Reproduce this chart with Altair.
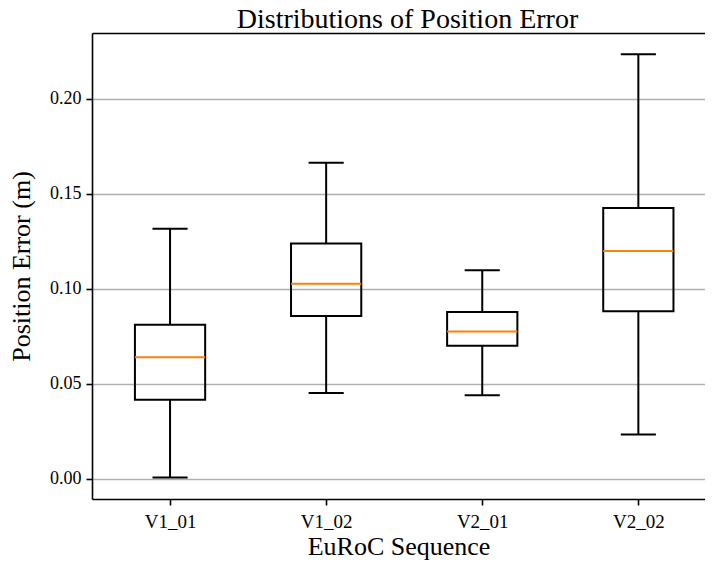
import altair as alt
import pandas as pd

# Data
sequences = ["V1_01", "V1_02", "V2_01", "V2_02"]
positions = [1, 2, 3, 4]
whisker_low = [0.0006, 0.0451, 0.0439, 0.0233]
q1 = [0.0416, 0.0857, 0.0700, 0.0882]
median = [0.0640, 0.1027, 0.0775, 0.1199]
q3 = [0.0811, 0.1238, 0.0878, 0.1425]
whisker_high = [0.1316, 0.1664, 0.1097, 0.2235]
y_ticks = [0.0, 0.05, 0.10, 0.15, 0.20]
chart_title = "Distributions of Position Error"

df = pd.DataFrame({
    "pos": positions,
    "name": sequences,
    "wlo": whisker_low,
    "q1": q1,
    "med": median,
    "q3": q3,
    "whi": whisker_high,
})

FONT = "Liberation Serif"
LW = 2

label_expr = "[" + ",".join("'" + s + "'" for s in sequences) + "][datum.value - 1]"

xscale = alt.Scale(domain=[0.5, 4.427], nice=False, zero=False)
yscale = alt.Scale(domain=[-0.0107, 0.2347], nice=False, zero=False)

base = alt.Chart(df).transform_calculate(
    left="datum.pos - 0.225",
    right="datum.pos + 0.225",
    capl="datum.pos - 0.1125",
    capr="datum.pos + 0.1125",
)

yenc_axis = alt.Axis(
    values=y_ticks, format=".2f", grid=True, gridColor="#b0b0b0", gridWidth=1.6,
    domainColor="black", domainWidth=1.6, tickColor="black", tickWidth=1.6, tickSize=6,
    labelPadding=5, labelFontSize=18, title="Position Error (m)", titleFontSize=26,
    titlePadding=15,
)

x_bottom_axis = alt.Axis(
    values=positions, labelExpr=label_expr, grid=False, domainColor="black",
    domainWidth=1.6, tickColor="black", tickWidth=1.6, tickSize=6, labelPadding=7,
    labelFontSize=19, title="EuRoC Sequence", titleFontSize=26,
    titleBaseline="alphabetic", titleY=55,
)

x_top_axis = alt.Axis(
    orient="top", labels=False, ticks=False, grid=False, domainColor="black",
    domainWidth=1.6, title=chart_title, titleFontSize=28, titleBaseline="alphabetic",
    titleY=-6, titleX=315, titleAngle=0,
)

whisk_lo = base.mark_rule(color="black", strokeWidth=LW).encode(
    x=alt.X("pos:Q", scale=xscale, axis=None),
    y=alt.Y("wlo:Q", scale=yscale, axis=yenc_axis),
    y2="q1:Q",
)
whisk_hi = base.mark_rule(color="black", strokeWidth=LW).encode(
    x=alt.X("pos:Q", scale=xscale, axis=None),
    y=alt.Y("q3:Q", scale=yscale),
    y2="whi:Q",
)
cap_lo = base.mark_rule(color="black", strokeWidth=LW).encode(
    x=alt.X("capl:Q", scale=xscale, axis=None),
    x2="capr:Q",
    y=alt.Y("wlo:Q", scale=yscale),
)
cap_hi = base.mark_rule(color="black", strokeWidth=LW).encode(
    x=alt.X("capl:Q", scale=xscale, axis=None),
    x2="capr:Q",
    y=alt.Y("whi:Q", scale=yscale),
)
box = base.mark_rect(fillOpacity=0, stroke="black", strokeWidth=LW).encode(
    x=alt.X("left:Q", scale=xscale, axis=x_bottom_axis),
    x2="right:Q",
    y=alt.Y("q1:Q", scale=yscale),
    y2="q3:Q",
)
med = base.mark_rule(color="#ff7f0e", strokeWidth=LW).encode(
    x=alt.X("left:Q", scale=xscale, axis=x_top_axis),
    x2="right:Q",
    y=alt.Y("med:Q", scale=yscale),
)

chart = alt.layer(whisk_lo, whisk_hi, cap_lo, cap_hi, box, med).resolve_axis(
    x="independent"
).properties(
    width=613,
    height=466,
    autosize=alt.AutoSizeParams(type="none"),
    padding={"left": 84, "top": 25, "right": 0, "bottom": 62},
).configure_view(
    strokeWidth=0
).configure_axis(
    labelFont=FONT, titleFont=FONT, labelColor="black", titleColor="black",
    titleFontWeight="normal",
)

chart.save("out.html", embed_options={"renderer": "svg", "actions": False})
